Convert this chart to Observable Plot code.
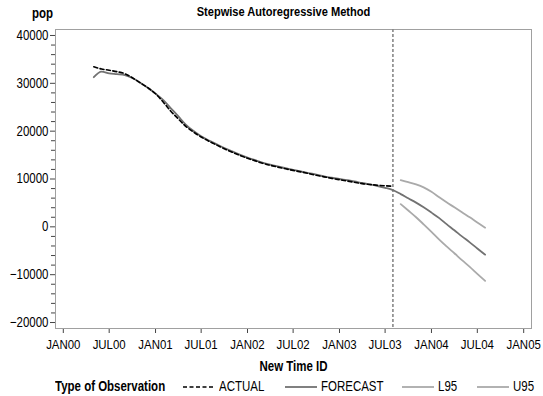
<!DOCTYPE html>
<html>
<head>
<meta charset="utf-8">
<script src="https://cdn.jsdelivr.net/npm/d3@7"></script>
<script src="https://cdn.jsdelivr.net/npm/@observablehq/plot@0.6"></script>
<style>
  html, body { margin: 0; padding: 0; background: #fff; }
  #wrap { position: relative; width: 543px; height: 396px; font-family: "Liberation Sans", Arial, sans-serif; }
  #legend { position: absolute; left: 0; top: 376px; width: 543px; height: 20px; font-size: 14px; color: #000; }
  #legend span { position: absolute; top: 0; line-height: 20px; white-space: nowrap; transform: scaleX(0.82); transform-origin: left center; }
  #legend svg { position: absolute; top: 5px; }
  .b { font-weight: bold; }
</style>
</head>
<body>
<div id="wrap">
  <div id="chart"></div>
  <div id="legend"></div>
</div>
<script>
// ---- Data ----
const months = [
  "2000-05","2000-06","2000-07","2000-08","2000-09","2000-10","2000-11","2000-12",
  "2001-01","2001-02","2001-03","2001-04","2001-05","2001-06","2001-07","2001-08","2001-09","2001-10","2001-11","2001-12",
  "2002-01","2002-02","2002-03","2002-04","2002-05","2002-06","2002-07","2002-08","2002-09","2002-10","2002-11","2002-12",
  "2003-01","2003-02","2003-03","2003-04","2003-05","2003-06","2003-07","2003-08","2003-09","2003-10","2003-11","2003-12",
  "2004-01","2004-02","2004-03","2004-04","2004-05","2004-06","2004-07","2004-08"
];
// ACTUAL: May 2000 – Aug 2003
const actual = [
  33470, 32990, 32740, 32430, 32010, 31170, 30120, 29080,
  27820, 26050, 24270, 22580, 21020, 19810, 18790, 17890, 17090, 16320, 15610, 14960,
  14330, 13790, 13300, 12870, 12490, 12130, 11800, 11490, 11130, 10780, 10450, 10130,
  9850, 9580, 9310, 9037, 8849, 8703, 8577, 8473
];
// FORECAST: May 2000 – Aug 2004 (one-step-ahead, then multi-step)
const forecast = [
  31280, 32430, 32070, 31900, 31690, 31110, 30120, 29080,
  27840, 26500, 24890, 23120, 21380, 20020, 18930, 18030, 17240, 16480, 15770, 15100,
  14480, 13930, 13450, 13010, 12640, 12280, 11920, 11610, 11250, 10920, 10540, 10270,
  10000, 9750, 9500, 9163, 8870, 8535, 8159, 7678,
  6841, 5962, 5063, 4079, 2971, 1820, 565, -711, -1987, -3243, -4519, -5816
];
// Confidence limits: Sep 2003 – Aug 2004
const l95 = [4749, 3410, 2008, 523, -1046, -2678, -4100, -5523, -6966, -8368, -9832, -11297];
const u95 = [9770, 9351, 8870, 8242, 7322, 6171, 5125, 4079, 3033, 1987, 900, -167];
const refMonth = "2003-08";
const yTicks = [-20000, -10000, 0, 10000, 20000, 30000, 40000];
const xTickMonths = ["2000-01","2000-07","2001-01","2001-07","2002-01","2002-07","2003-01","2003-07","2004-01","2004-07","2005-01"];
const xDomain = ["1999-12-01", "2005-02-01"];
const yDomain = [-21250, 41250];
const title = "Stepwise Autoregressive Method";
const yLabel = "pop";
const xLabel = "New Time ID";
const legendTitle = "Type of Observation";
const seriesNames = ["ACTUAL", "FORECAST", "L95", "U95"];

// ---- Build tables ----
const pm = d3.utcParse("%Y-%m");
const pd = d3.utcParse("%Y-%m-%d");
const rows = [];
actual.forEach((v, i) => rows.push({date: pm(months[i]), value: v, type: "ACTUAL"}));
forecast.forEach((v, i) => rows.push({date: pm(months[i]), value: v, type: "FORECAST"}));
const lim0 = months.length - l95.length;
l95.forEach((v, i) => rows.push({date: pm(months[lim0 + i]), value: v, type: "L95"}));
u95.forEach((v, i) => rows.push({date: pm(months[lim0 + i]), value: v, type: "U95"}));
const byType = t => rows.filter(d => d.type === t);

const minorTicks = d3.range(yTicks[0], yTicks[yTicks.length - 1] + 1, 2000).filter(v => !yTicks.includes(v));
const fmtX = d => d3.utcFormat("%b%y")(d).toUpperCase();
const fmtY = d3.format("d");

const styles = {
  ACTUAL:   {stroke: "#000000", strokeWidth: 1.6, dash: "4,2.5"},
  FORECAST: {stroke: "#727272", strokeWidth: 1.8, dash: null},
  L95:      {stroke: "#aaaaaa", strokeWidth: 1.8, dash: null},
  U95:      {stroke: "#aaaaaa", strokeWidth: 1.8, dash: null}
};

const chart = Plot.plot({
  width: 543,
  height: 376,
  marginLeft: 55,
  marginRight: 12,
  marginTop: 29,
  marginBottom: 48,
  style: {fontFamily: '"Liberation Sans", Arial, sans-serif', fontSize: "14px", color: "#000", background: "#fff"},
  x: {type: "utc", domain: xDomain.map(pd)},
  y: {domain: yDomain},
  marks: [
    Plot.axisY({ticks: minorTicks, tickSize: 4, tickFormat: () => "", label: null, stroke: "#444"}),
    Plot.axisY({ticks: yTicks, tickSize: 5, tickPadding: 2, tickFormat: fmtY, label: null, stroke: "#444"}),
    Plot.axisX({ticks: xTickMonths.map(pm), tickSize: 5, tickPadding: 6, tickFormat: fmtX, label: null, stroke: "#444", fontSize: 13, className: "xticks"}),
    Plot.frame({stroke: "#a0a0a0"}),
    Plot.ruleX([pm(refMonth)], {stroke: "#888888", strokeWidth: 1.6, strokeDasharray: "3,2"}),
    ...["U95", "L95", "FORECAST", "ACTUAL"].map(t =>
      Plot.line(byType(t), {x: "date", y: "value", stroke: styles[t].stroke, strokeWidth: styles[t].strokeWidth, strokeDasharray: styles[t].dash, curve: "monotone-x"})
    ),
    Plot.text([title], {frameAnchor: "top", lineAnchor: "middle", dy: -18, dx: -10, fontWeight: "bold", fontSize: 13.5}),
    Plot.text([yLabel], {frameAnchor: "top-left", lineAnchor: "middle", dy: -16, dx: -13, textAnchor: "middle", fontWeight: "bold", fontSize: 14}),
    Plot.text([xLabel], {frameAnchor: "bottom", lineAnchor: "middle", dy: 38, fontWeight: "bold", fontSize: 14})
  ]
});
document.getElementById("chart").appendChild(chart);

// Condense the sans-serif text to mimic the reference's narrow typeface
chart.querySelectorAll("text").forEach(el => {
  const w = el.getComputedTextLength();
  if (w > 0) {
    const f = el.closest(".xticks") ? 0.88 : 0.82;
    el.setAttribute("textLength", (w * f).toFixed(2));
    el.setAttribute("lengthAdjust", "spacingAndGlyphs");
  }
});

// ---- Legend ----
const legend = document.getElementById("legend");
const addSpan = (txt, left, bold) => {
  const s = document.createElement("span");
  s.textContent = txt; s.style.left = left + "px";
  if (bold) s.className = "b";
  legend.appendChild(s);
};
const addSwatch = (t, left) => {
  const ns = "http://www.w3.org/2000/svg";
  const svg = document.createElementNS(ns, "svg");
  svg.setAttribute("width", 32); svg.setAttribute("height", 12);
  svg.style.left = left + "px";
  const ln = document.createElementNS(ns, "line");
  ln.setAttribute("x1", 0); ln.setAttribute("x2", 32); ln.setAttribute("y1", 6); ln.setAttribute("y2", 6);
  ln.setAttribute("stroke", styles[t].stroke); ln.setAttribute("stroke-width", styles[t].strokeWidth);
  if (styles[t].dash) ln.setAttribute("stroke-dasharray", styles[t].dash);
  svg.appendChild(ln);
  legend.appendChild(svg);
};
addSpan(legendTitle, 55, true);
const swLeft = [183, 285, 402, 477];
seriesNames.forEach((t, i) => {
  addSwatch(t, swLeft[i]);
  addSpan(t, swLeft[i] + 36, false);
});
</script>
</body>
</html>
